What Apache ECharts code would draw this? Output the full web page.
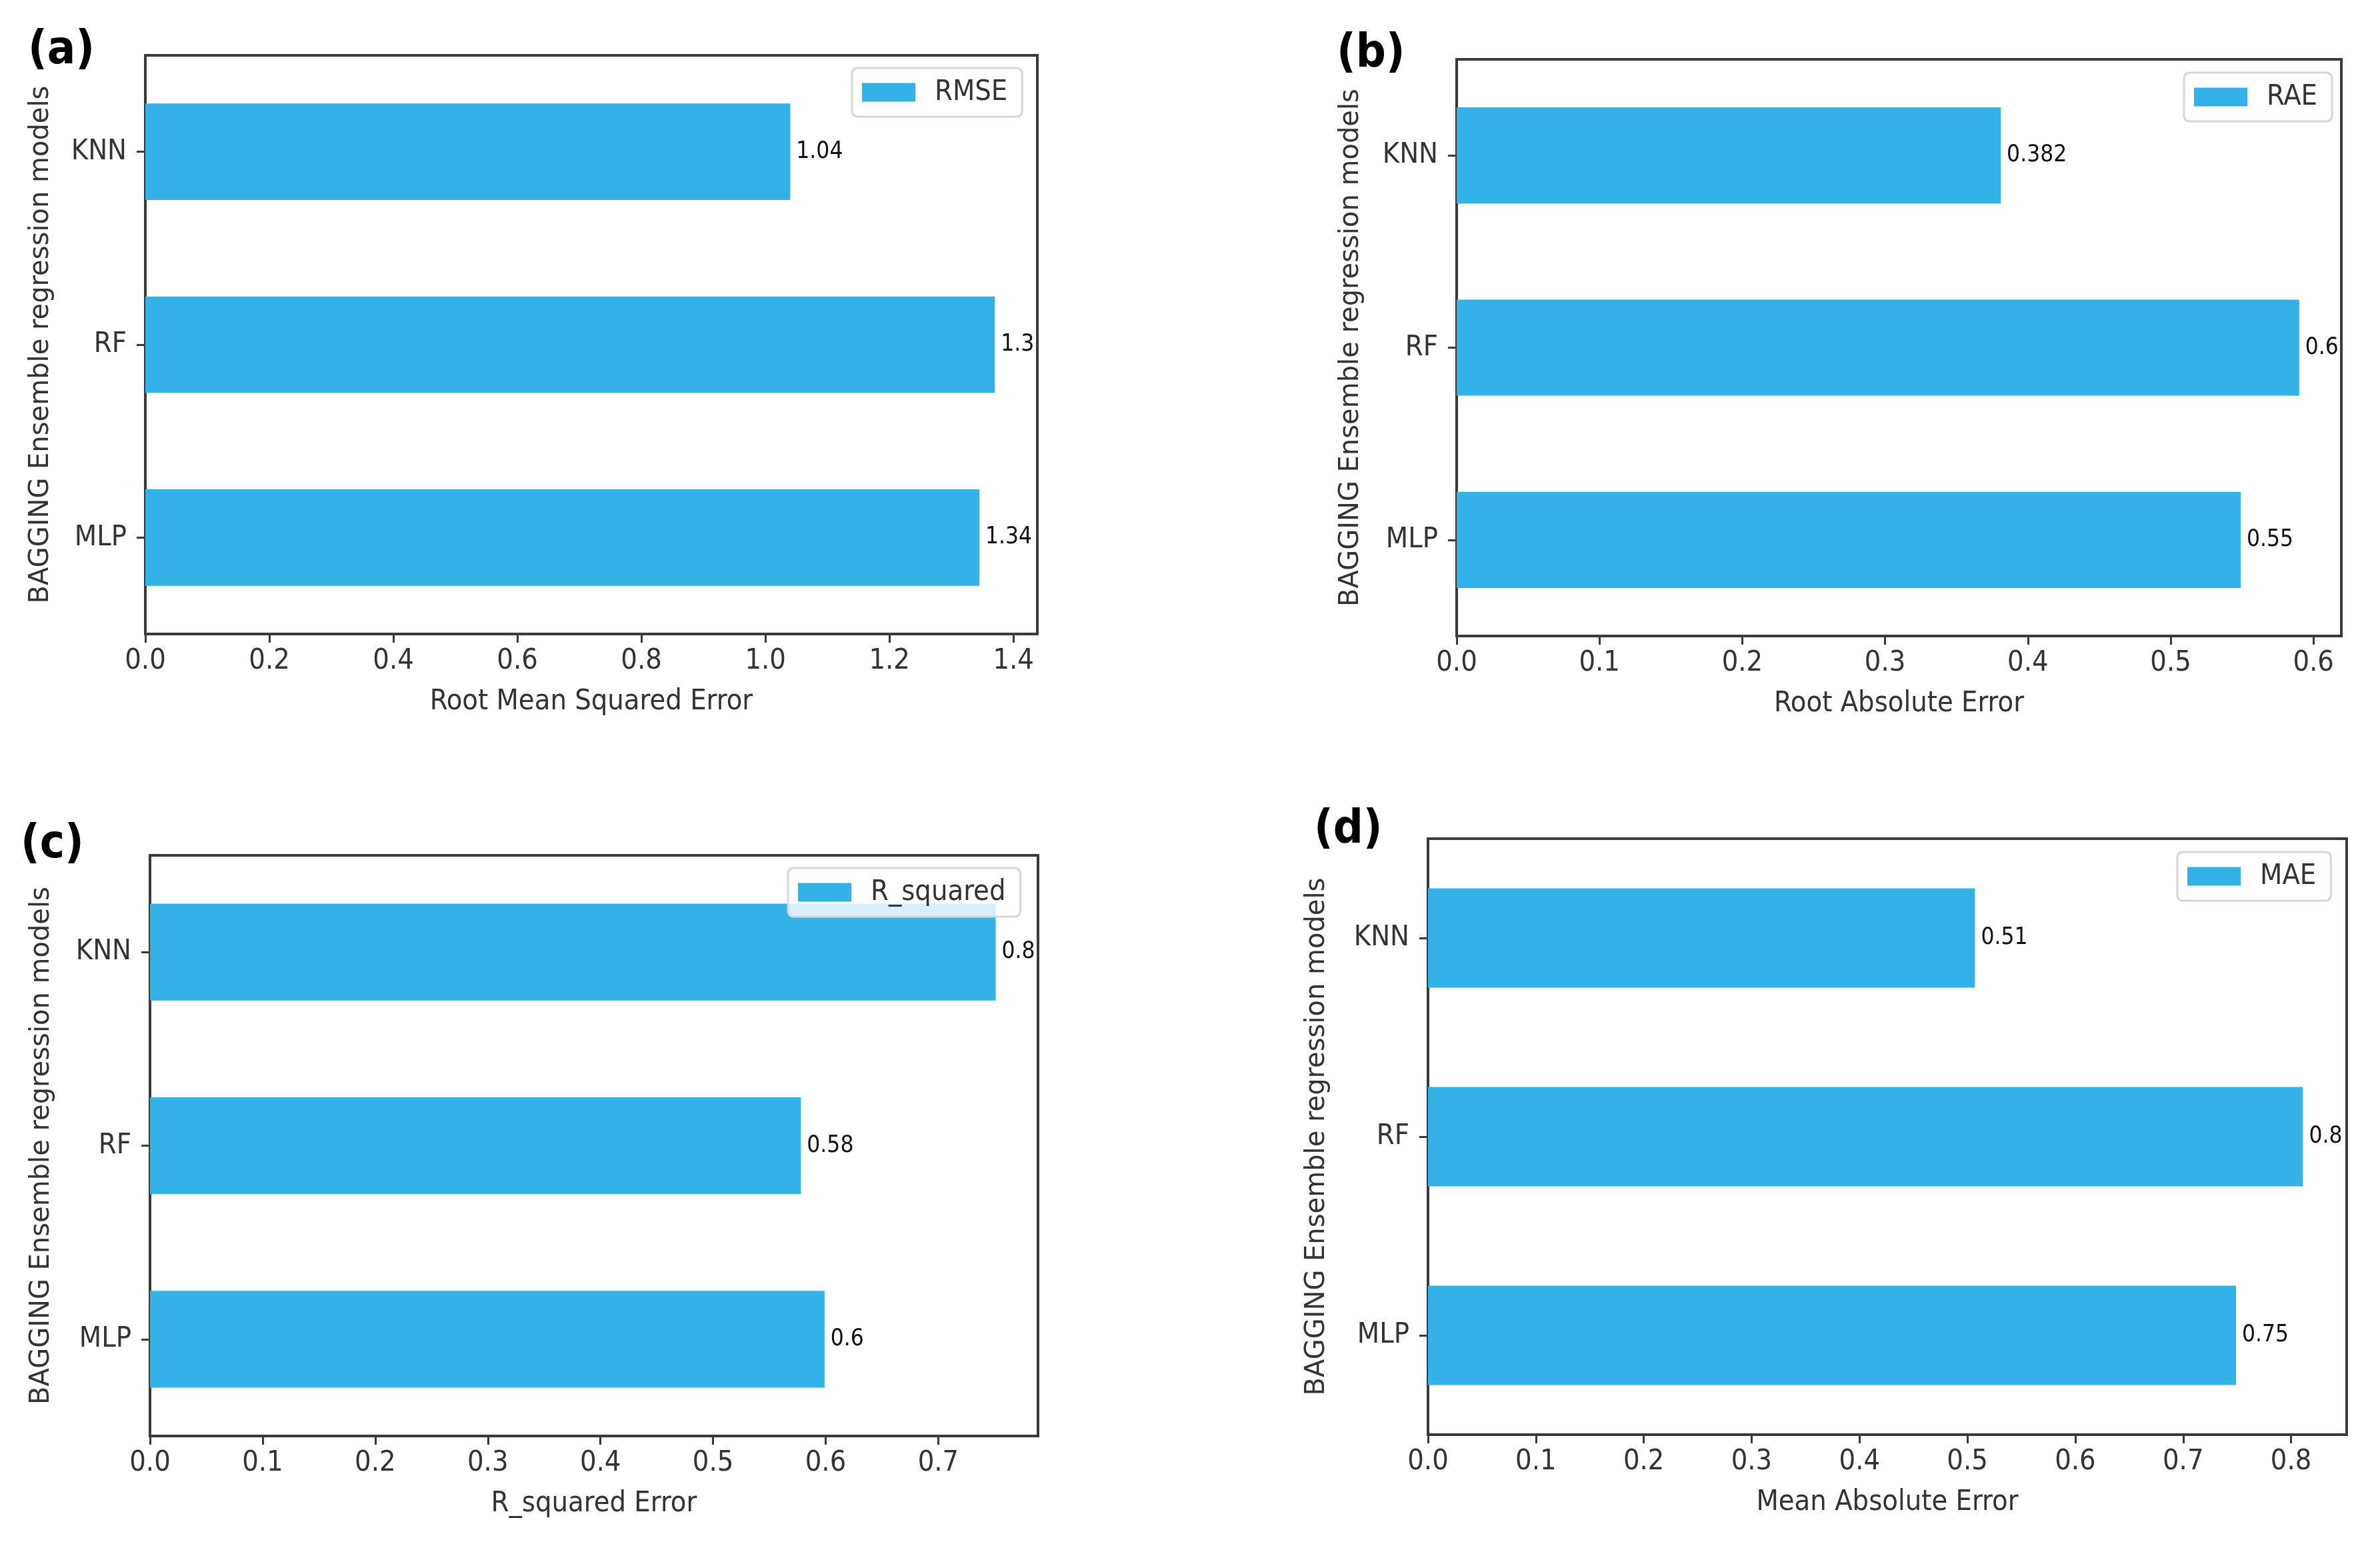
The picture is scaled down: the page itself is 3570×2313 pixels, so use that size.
<!DOCTYPE html>
<html>
<head>
<meta charset="utf-8">
<script src="https://cdn.jsdelivr.net/npm/echarts@6/dist/echarts.min.js"></script>
<style>
html,body{margin:0;padding:0;background:#fff;}
#chart{width:3570px;height:2313px;}
</style>
</head>
<body>
<div id="chart"></div>
<script>
// ---------------- data ----------------
const categories = ['KNN', 'RF', 'MLP'];
const rmseValues = [1.04, 1.37, 1.345];
const rmseLabels = ['1.04', '1.3', '1.34'];
const raeValues = [0.381, 0.59, 0.549];
const raeLabels = ['0.382', '0.6', '0.55'];
const rsqValues = [0.751, 0.578, 0.599];
const rsqLabels = ['0.8', '0.58', '0.6'];
const maeValues = [0.507, 0.811, 0.749];
const maeLabels = ['0.51', '0.8', '0.75'];
const ticksA = [0.0, 0.2, 0.4, 0.6, 0.8, 1.0, 1.2, 1.4];
const ticksB = [0.0, 0.1, 0.2, 0.3, 0.4, 0.5, 0.6];
const ticksC = [0.0, 0.1, 0.2, 0.3, 0.4, 0.5, 0.6, 0.7];
const ticksD = [0.0, 0.1, 0.2, 0.3, 0.4, 0.5, 0.6, 0.7, 0.8];
const seriesNames = ['RMSE', 'RAE', 'R_squared', 'MAE'];
const xAxisNames = ['Root Mean Squared Error', 'Root Absolute Error', 'R_squared Error', 'Mean Absolute Error'];
const yAxisName = 'BAGGING Ensemble regression models';
const panelLabels = ['(a)', '(b)', '(c)', '(d)'];

const panels = [
  { values: rmseValues, labels: rmseLabels, ticks: ticksA },
  { values: raeValues, labels: raeLabels, ticks: ticksB },
  { values: rsqValues, labels: rsqLabels, ticks: ticksC },
  { values: maeValues, labels: maeLabels, ticks: ticksD }
];

// ---------------- layout (pixels) ----------------
const layout = [
  { grid: { left: 218, top: 83, width: 1338, height: 868 }, legend: { left: 1278, top: 102 }, tag: { x: 42, y: 42 }, yGap: 136 },
  { grid: { left: 2185, top: 89, width: 1327, height: 865 }, legend: { left: 3276, top: 109 }, tag: { x: 2005, y: 47 }, yGap: 138 },
  { grid: { left: 225, top: 1283, width: 1332, height: 871 }, legend: { left: 1182, top: 1302 }, tag: { x: 31, y: 1233 }, yGap: 142 },
  { grid: { left: 2142, top: 1258, width: 1378, height: 894 }, legend: { left: 3266, top: 1278 }, tag: { x: 1971, y: 1211 }, yGap: 146 }
];

// ---------------- fonts ----------------
function fontAvailable(name) {
  const ctx = document.createElement('canvas').getContext('2d');
  const s = 'abcdefghijklmnopqrstuvwxyzABCDEFGHIJKLM0123456789.,_';
  let res = false;
  ['monospace', 'serif'].forEach(function (fb) {
    ctx.font = '72px ' + fb;
    const w0 = ctx.measureText(s).width;
    ctx.font = '72px "' + name + '", ' + fb;
    const w1 = ctx.measureText(s).width;
    if (Math.abs(w1 - w0) > 0.5) res = true;
  });
  return res;
}
const hasCond = fontAvailable('DejaVu Sans Condensed');
const hasNarrow = fontAvailable('Liberation Sans Narrow');
const mainFont = hasCond ? '"DejaVu Sans Condensed", "DejaVu Sans", sans-serif' : '"DejaVu Sans", sans-serif';
const mainSize = hasCond ? 43 : 39;
const yNameFont = '"DejaVu Sans", sans-serif';
const yNameSize = 40;
let valFont, valSize;
if (hasNarrow) { valFont = '"Liberation Sans Narrow", sans-serif'; valSize = 42; }
else if (hasCond) { valFont = '"DejaVu Sans Condensed", sans-serif'; valSize = 35; }
else { valFont = '"DejaVu Sans", sans-serif'; valSize = 31; }

const barColor = '#34B1E7';
const spineColor = '#3a3a3a';
const textColor = '#333333';

// ---------------- option ----------------
const grids = [], xAxes = [], yAxes = [], series = [], legends = [], graphics = [];
panels.forEach(function (p, i) {
  const L = layout[i];
  const xmax = 1.05 * Math.max.apply(null, p.values);
  grids.push(Object.assign({ show: true, borderColor: spineColor, borderWidth: 4, backgroundColor: 'transparent', containLabel: false }, L.grid));
  xAxes.push({
    type: 'value', gridIndex: i, min: 0, max: xmax,
    name: xAxisNames[i], nameLocation: 'middle', nameGap: 80,
    nameTextStyle: { fontFamily: mainFont, fontSize: mainSize, color: textColor },
    axisLine: { show: false },
    axisTick: { show: true, length: 13, lineStyle: { color: spineColor, width: 3 }, customValues: p.ticks },
    axisLabel: {
      show: true, margin: 19, fontFamily: mainFont, fontSize: mainSize, color: textColor,
      customValues: p.ticks,
      formatter: function (v) { return v.toFixed(1); }
    },
    splitLine: { show: false }
  });
  yAxes.push({
    type: 'category', gridIndex: i, data: categories, inverse: true,
    name: yAxisName, nameLocation: 'middle', nameGap: L.yGap, nameRotate: 90,
    nameTextStyle: { fontFamily: yNameFont, fontSize: yNameSize, color: textColor },
    axisLine: { show: false },
    axisTick: { show: true, alignWithLabel: true, length: 13, lineStyle: { color: spineColor, width: 3 } },
    axisLabel: { margin: 28, fontFamily: mainFont, fontSize: mainSize, color: textColor },
    splitLine: { show: false }
  });
  series.push({
    type: 'bar', name: seriesNames[i], xAxisIndex: i, yAxisIndex: i,
    data: p.values, barWidth: '50%',
    itemStyle: { color: barColor },
    label: {
      show: true, position: 'right', distance: 9,
      fontFamily: valFont, fontSize: valSize, color: '#111',
      formatter: function (params) { return p.labels[params.dataIndex]; }
    },
    emphasis: { disabled: true },
    animation: false
  });
  legends.push({
    data: [seriesNames[i]], left: L.legend.left, top: L.legend.top,
    orient: 'horizontal', icon: 'rect', itemWidth: 80, itemHeight: 28,
    padding: [15, 22, 15, 15],
    backgroundColor: 'rgba(255,255,255,0.8)', borderColor: '#d6d6d6', borderWidth: 3, borderRadius: 8,
    textStyle: { fontFamily: mainFont, fontSize: mainSize, color: textColor, padding: [0, 0, 0, 24] },
    selectedMode: false, z: 10
  });
  graphics.push({
    type: 'text', left: L.tag.x, top: L.tag.y, z: 20,
    style: { text: panelLabels[i], fontFamily: mainFont, fontWeight: 'bold', fontSize: 70, fill: '#000' }
  });
});

const chart = echarts.init(document.getElementById('chart'), null, { renderer: 'canvas', width: 3570, height: 2313 });
chart.setOption({
  backgroundColor: '#ffffff',
  animation: false,
  grid: grids,
  xAxis: xAxes,
  yAxis: yAxes,
  series: series,
  legend: legends,
  graphic: graphics
});
</script>
</body>
</html>
